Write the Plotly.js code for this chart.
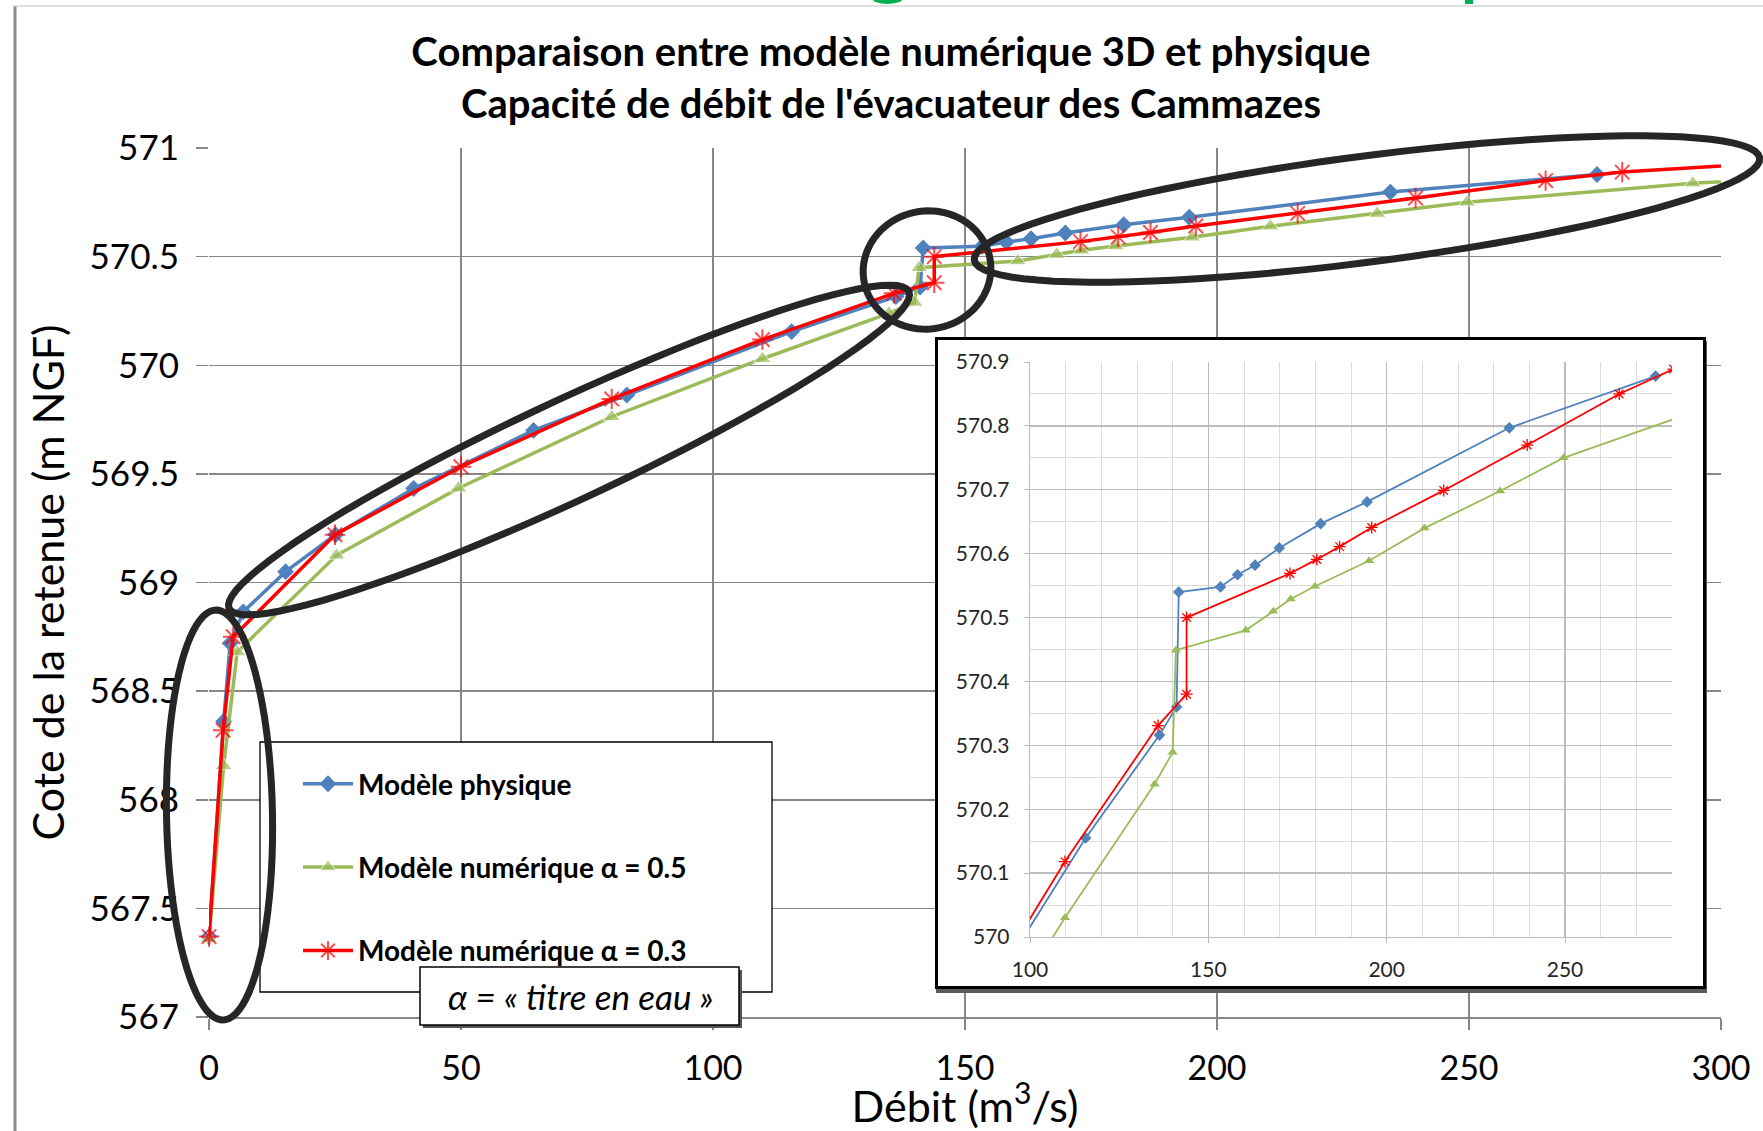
<!DOCTYPE html>
<html>
<head>
<meta charset="utf-8">
<script src="https://cdn.plot.ly/plotly-3.0.1.min.js"></script>
<style>
html,body{margin:0;padding:0;background:#fff;}
#wrap{position:relative;width:1763px;height:1131px;overflow:hidden;background:#fff;}
#main{position:absolute;left:0;top:0;width:1763px;height:1131px;}
#inset{position:absolute;left:935px;top:337px;width:765px;height:646px;border:3px solid #000;box-shadow:1px 4px 0 #5a5a5a;background:#fff;}
</style>
</head>
<body>
<div id="wrap"><div id="main"></div><div id="inset"></div></div>
<script>
// ---------------- data ----------------
const chartTitle = 'Comparaison entre modèle numérique 3D et physique<br>Capacité de débit de l\'évacuateur des Cammazes';
const xTitle = 'Débit (m<sup>3</sup>/s)';
const yTitle = 'Cote de la retenue (m NGF)';
const seriesNames = ['Modèle physique', 'Modèle numérique α = 0.5', 'Modèle numérique α = 0.3'];
const noteText = 'α = « titre en eau »';

const physX = [0, 2.9, 4.2, 6.8, 15.2, 25.1, 40.6, 64.4, 82.9, 115.6, 136.3, 141.1, 141.7, 153.4, 158.2, 163.1, 169.9, 181.5, 194.5, 234.4, 275.4];
const physY = [567.37, 568.36, 568.72, 568.865, 569.05, 569.22, 569.433, 569.70, 569.863, 570.155, 570.316, 570.36, 570.54, 570.548, 570.567, 570.582, 570.609, 570.647, 570.681, 570.797, 570.878];

const a05X = [0, 2.9, 5.6, 25.3, 49.5, 79.9, 109.8, 134.9, 140.0, 140.9, 160.5, 168.2, 173.1, 179.9, 195.1, 210.6, 231.8, 249.6, 294.4, 315];
const a05Y = [567.36, 568.156, 568.68, 569.125, 569.434, 569.763, 570.03, 570.239, 570.289, 570.449, 570.48, 570.51, 570.529, 570.549, 570.589, 570.64, 570.698, 570.75, 570.838, 570.864];

const a03X = [0, 2.8, 4.8, 25.0, 50.0, 79.9, 109.8, 135.9, 143.9, 143.9, 172.9, 180.4, 186.8, 195.8, 216.0, 239.4, 265.2, 280.4, 315];
const a03Y = [567.37, 568.32, 568.75, 569.22, 569.533, 569.845, 570.118, 570.331, 570.38, 570.50, 570.569, 570.591, 570.611, 570.641, 570.699, 570.77, 570.85, 570.889, 570.939];

const mainXTicks = [0, 50, 100, 150, 200, 250, 300];
const mainYRange = [567, 571];
const insetXRange = [100, 280];
const insetYRange = [570, 570.9];

// ---------------- styles ----------------
const FONT = "Lato, 'Open Sans', sans-serif";
const BLUE = '#4f81bd', GREEN = '#9bbb59', RED = '#ff0000';
const GRID = '#878787';

// pixel -> paper helpers for the main chart (plot area 209..1721 x 148..1017)
const PL = 209, PR = 1721, PT = 148, PB = 1017;
const px = x => (x - PL) / (PR - PL);
const py = y => (PB - y) / (PB - PT);

function ellipsePath(cx, cy, rx, ry, deg) {
  const t = deg * Math.PI / 180, n = 90;
  let d = '';
  for (let i = 0; i <= n; i++) {
    const a = 2 * Math.PI * i / n;
    const ex = rx * Math.cos(a), ey = ry * Math.sin(a);
    const X = cx + ex * Math.cos(t) - ey * Math.sin(t);
    const Y = cy + ex * Math.sin(t) + ey * Math.cos(t);
    d += (i ? 'L' : 'M') + px(X).toFixed(5) + ',' + py(Y).toFixed(5);
  }
  return d + 'Z';
}
function rectShape(x0, y0, x1, y1, fill, lineColor, lineWidth) {
  return {type: 'rect', xref: 'paper', yref: 'paper', layer: 'above',
    x0: px(x0), x1: px(x1), y0: py(y1), y1: py(y0),
    fillcolor: fill, line: {color: lineColor, width: lineWidth}};
}
function pathShape(d, color, width) {
  return {type: 'path', xref: 'paper', yref: 'paper', layer: 'above', path: d,
    fillcolor: 'rgba(0,0,0,0)', line: {color: color, width: width}};
}
const hideBeyond = (xs, size) => xs.map(x => x > 300 ? 0 : size);

// ---------------- main chart ----------------
const mainTraces = [
  {x: physX, y: physY, name: seriesNames[0], legendgroup: 'g1', mode: 'lines+markers', cliponaxis: false,
   line: {color: BLUE, width: 3.5}, marker: {symbol: 'diamond', size: 13, color: BLUE}},
  {x: a05X, y: a05Y, name: seriesNames[1], legendgroup: 'g2', mode: 'lines+markers', cliponaxis: false,
   line: {color: GREEN, width: 3.5}, marker: {symbol: 'triangle-up', size: hideBeyond(a05X, 15), color: GREEN}},
  {x: a03X, y: a03Y, name: seriesNames[2], legendgroup: 'g3', mode: 'lines+markers', cliponaxis: false,
   line: {color: RED, width: 3.5}, marker: {symbol: 'asterisk-open', size: hideBeyond(a03X, 17), color: RED, line: {color: RED, width: 2}}}
];

const shapes = [
  // chart frame fragments
  {type: 'line', xref: 'paper', yref: 'paper', layer: 'above', x0: px(15), x1: px(15), y0: py(6), y1: py(1135), line: {color: '#8c8c8c', width: 3}},
  {type: 'line', xref: 'paper', yref: 'paper', layer: 'above', x0: px(14), x1: px(1765), y0: py(6), y1: py(6), line: {color: '#d4d4d4', width: 1.5}},
  // cut-off green slide-title letters
  {type: 'circle', xref: 'paper', yref: 'paper', layer: 'above', x0: px(872), x1: px(903), y0: py(4), y1: py(-8), fillcolor: '#00b050', line: {width: 0}},
  {type: 'rect', xref: 'paper', yref: 'paper', layer: 'above', x0: px(1465), x1: px(1473), y0: py(4), y1: py(-2), fillcolor: '#00b050', line: {width: 0}},
  // legend box
  rectShape(260, 742, 772, 992, '#ffffff', '#000000', 1.3),
  // note box with shadow
  rectShape(423, 970, 742, 1028, '#555555', '#555555', 0),
  rectShape(420, 967, 739, 1025, '#ffffff', '#000000', 1.5),
  // hand-drawn ellipses
  pathShape(ellipsePath(219.5, 815, 53, 205, -1), '#262626', 7),
  pathShape(ellipsePath(569, 450, 375, 50, -25), '#262626', 7),
  pathShape(ellipsePath(927, 270, 64, 59, -10), '#262626', 7),
  pathShape(ellipsePath(1367, 209, 396, 53, -7.4), '#262626', 7)
];

const mainLayout = {
  width: 1763, height: 1131,
  margin: {l: PL, r: 1763 - PR, t: PT, b: 1131 - PB, pad: 0},
  paper_bgcolor: 'rgba(0,0,0,0)', plot_bgcolor: '#ffffff',
  font: {family: FONT, color: '#000'},
  title: {text: chartTitle, xref: 'container', yref: 'container', x: 891 / 1763, xanchor: 'center',
          y: 1 - 66 / 1131, yanchor: 'middle', font: {family: FONT, size: 40, weight: 700, color: '#000'}},
  showlegend: true,
  legend: {x: px(298), y: py(759), xanchor: 'left', yanchor: 'top', bgcolor: 'rgba(0,0,0,0)', borderwidth: 0,
           font: {family: FONT, size: 28, weight: 700, color: '#000'}, itemwidth: 50, tracegroupgap: 44,
           traceorder: 'grouped', itemclick: false, itemdoubleclick: false},
  xaxis: {range: [0, 300], tickmode: 'array', tickvals: mainXTicks, showgrid: true, gridcolor: GRID, gridwidth: 1.5,
          zeroline: true, zerolinecolor: 'rgba(0,0,0,0)', showline: true, linecolor: GRID, linewidth: 2,
          ticks: 'outside', ticklen: 11, tickwidth: 1.5, tickcolor: GRID, ticklabelstandoff: 9,
          tickfont: {family: FONT, size: 34, color: '#000'},
          title: {text: xTitle, font: {family: FONT, size: 43, color: '#000'}, standoff: 2}},
  yaxis: {range: mainYRange, dtick: 0.5, tick0: 567, showgrid: true, gridcolor: GRID, gridwidth: 1.5, zeroline: false,
          showline: false, ticks: 'outside', ticklen: 12, tickwidth: 1.5, tickcolor: GRID, ticklabelstandoff: 10,
          tickfont: {family: FONT, size: 35, color: '#000'},
          title: {text: yTitle, font: {family: FONT, size: 43, color: '#000'}, standoff: 11}},
  shapes: shapes,
  annotations: [
    {text: noteText, xref: 'paper', yref: 'paper', x: px(580), y: py(996), xanchor: 'center', yanchor: 'middle',
     showarrow: false, font: {family: FONT, size: 35, style: 'italic', color: '#000'}}
  ]
};

Plotly.newPlot('main', mainTraces, mainLayout, {displayModeBar: false, staticPlot: true});

// ---------------- inset (zoom 100-280 m3/s) ----------------
const insetTraces = [
  {x: physX, y: physY, name: seriesNames[0], mode: 'lines+markers', showlegend: false,
   line: {color: BLUE, width: 1.8}, marker: {symbol: 'diamond', size: 9, color: BLUE}},
  {x: a05X, y: a05Y, name: seriesNames[1], mode: 'lines+markers', showlegend: false,
   line: {color: GREEN, width: 1.8}, marker: {symbol: 'triangle-up', size: 9, color: GREEN}},
  {x: a03X, y: a03Y, name: seriesNames[2], mode: 'lines+markers', showlegend: false,
   line: {color: RED, width: 1.8}, marker: {symbol: 'asterisk-open', size: 10, color: RED, line: {color: RED, width: 1.3}}}
];
const insetLayout = {
  width: 765, height: 646,
  margin: {l: 92, r: 31, t: 22, b: 49, pad: 0},
  paper_bgcolor: '#ffffff', plot_bgcolor: '#ffffff', showlegend: false,
  font: {family: FONT, color: '#262626'},
  xaxis: {range: insetXRange, dtick: 50, tick0: 100, showgrid: true, gridcolor: '#bdbdbd', gridwidth: 1.3,
          minor: {dtick: 10, showgrid: true, gridcolor: '#dcdcdc', gridwidth: 1},
          zeroline: false, showline: true, linecolor: '#bdbdbd', linewidth: 1.3,
          ticks: 'outside', ticklen: 5, tickcolor: '#bdbdbd', ticklabelstandoff: 8,
          tickfont: {family: FONT, size: 21, color: '#262626'}},
  yaxis: {range: insetYRange, dtick: 0.1, tick0: 570, showgrid: true, gridcolor: '#bdbdbd', gridwidth: 1.3,
          minor: {dtick: 0.05, showgrid: true, gridcolor: '#dcdcdc', gridwidth: 1},
          zeroline: false, showline: true, linecolor: '#bdbdbd', linewidth: 1.3,
          ticks: 'outside', ticklen: 5, tickcolor: '#bdbdbd', ticklabelstandoff: 10,
          tickfont: {family: FONT, size: 21, color: '#262626'}}
};
Plotly.newPlot('inset', insetTraces, insetLayout, {displayModeBar: false, staticPlot: true});
</script>
</body>
</html>
